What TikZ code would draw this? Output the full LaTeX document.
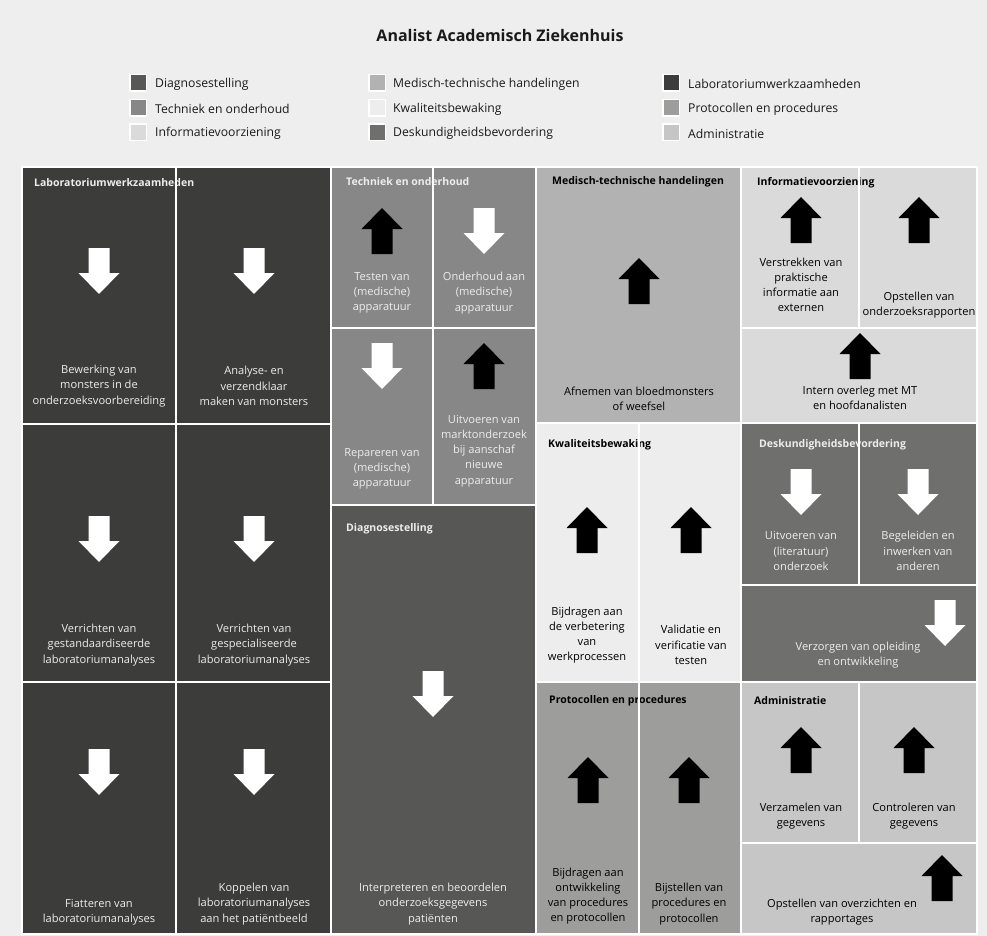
\documentclass[tikz,border=0pt]{standalone}
\usepackage{fontspec}
\setmainfont{Open Sans}

\definecolor{bgc}{HTML}{EEEEEE}
\definecolor{labc}{HTML}{3C3C3B}
\definecolor{diagc}{HTML}{575756}
\definecolor{techc}{HTML}{878787}
\definecolor{infoc}{HTML}{DADADA}
\definecolor{medc}{HTML}{B2B2B2}
\definecolor{kwalc}{HTML}{EDEDED}
\definecolor{deskc}{HTML}{6F6F6E}
\definecolor{protc}{HTML}{9D9D9C}
\definecolor{admc}{HTML}{C6C6C6}
\definecolor{darktxt}{HTML}{1A1A1A}
\definecolor{lighttxt}{HTML}{EDEDED}

\begin{document}
\begin{tikzpicture}[x=1pt, y=-1pt,
    maintitle/.style={font=\fontsize{16}{19}\selectfont\bfseries, text=darktxt, inner sep=0},
    key/.style={draw=white, line width=1.5pt, minimum size=16.5pt, inner sep=0},
    keytext/.style={anchor=west, font=\fontsize{12.2}{14}\selectfont, text=darktxt, inner sep=0},
    head/.style={anchor=west, font=\fontsize{10.5}{13}\selectfont\bfseries, inner sep=0},
    body/.style={align=center, font=\fontsize{11.1}{15.2}\selectfont, inner sep=0},
    onlight/.style={text=black},
    ondark/.style={text=lighttxt},
    sep/.style={draw=white, line width=2pt},
    dnarrow/.pic={\fill[white] (-10.5,-23) -- (10.5,-23) -- (10.5,2) -- (20.5,2)
        -- (0,23) -- (-20.5,2) -- (-10.5,2) -- cycle;},
    uparrow/.pic={\fill[black] (-10.5,23) -- (10.5,23) -- (10.5,-2) -- (20.5,-2)
        -- (0,-23) -- (-20.5,-2) -- (-10.5,-2) -- cycle;}
]
\fill[bgc] (0,0) rectangle (987,936);
\useasboundingbox (0,0) rectangle (987,936);

% Title and legend
\node[maintitle] (title) at (500,36) {Analist Academisch Ziekenhuis};

\node[key, fill=diagc] (k1) at (138,83) {};
\node[key, fill=techc] (k2) at (138,108) {};
\node[key, fill=infoc] (k3) at (138,132.5) {};
\node[key, fill=medc] (k4) at (377,83) {};
\node[key, fill=kwalc] (k5) at (377,108) {};
\node[key, fill=deskc] (k6) at (377,132.5) {};
\node[key, fill=labc] (k7) at (671,83) {};
\node[key, fill=protc] (k8) at (671,108) {};
\node[key, fill=admc] (k9) at (671,132.5) {};

\node[keytext] (kt1) at (155,84) {Diagnosestelling};
\node[keytext] (kt2) at (155,109) {Techniek en onderhoud};
\node[keytext] (kt3) at (155,133.5) {Informatievoorziening};
\node[keytext] (kt4) at (393,84) {Medisch-technische handelingen};
\node[keytext] (kt5) at (393,109) {Kwaliteitsbewaking};
\node[keytext] (kt6) at (393,133.5) {Deskundigheidsbevordering};
\node[keytext] (kt7) at (688,84) {Laboratoriumwerkzaamheden};
\node[keytext] (kt8) at (688,109) {Protocollen en procedures};
\node[keytext] (kt9) at (688,133.5) {Administratie};

% Blocks
\fill[labc] (22,167) rectangle (331,934);
\fill[techc] (331,167) rectangle (536,505);
\fill[diagc] (331,505) rectangle (536,934);
\fill[medc] (536,167) rectangle (741,423);
\fill[kwalc] (536,423) rectangle (741,682);
\fill[protc] (536,682) rectangle (741,934);
\fill[infoc] (741,167) rectangle (977,423);
\fill[deskc] (741,423) rectangle (977,682);
\fill[admc] (741,682) rectangle (977,934);

% Laboratoriumwerkzaamheden
\node[head, ondark] (hlab) at (34,183) {Laboratoriumwerkzaamheden};
\pic at (99,271) {dnarrow};
\pic at (254,271) {dnarrow};
\pic at (99,539) {dnarrow};
\pic at (254,539) {dnarrow};
\pic at (99,772) {dnarrow};
\pic at (254,772) {dnarrow};
\node[body, ondark] (bewerking) at (99,386) {Bewerking van\\monsters in de\\onderzoeksvoorbereiding};
\node[body, ondark] (analyse) at (254,386) {Analyse- en\\verzendklaar\\maken van monsters};
\node[body, ondark] (gestand) at (99,645) {Verrichten van\\gestandaardiseerde\\laboratoriumanalyses};
\node[body, ondark] (gespec) at (254,645) {Verrichten van\\gespecialiseerde\\laboratoriumanalyses};
\node[body, ondark] (fiatteren) at (99,912) {Fiatteren van\\laboratoriumanalyses};
\node[body, ondark] (koppelen) at (254,904) {Koppelen van\\laboratoriumanalyses\\aan het patiëntbeeld};

% Techniek en onderhoud
\node[head, ondark] (htech) at (346,182) {Techniek en onderhoud};
\pic at (382,231) {uparrow};
\pic at (484,231) {dnarrow};
\pic at (382,366) {dnarrow};
\pic at (484,366) {uparrow};
\node[body, ondark] (testen) at (382,293) {Testen van\\(medische)\\apparatuur};
\node[body, ondark] (onderhoud) at (484,293) {Onderhoud aan\\(medische)\\apparatuur};
\node[body, ondark] (repareren) at (382,469) {Repareren van\\(medische)\\apparatuur};
\node[body, ondark] (markt) at (484,451) {Uitvoeren van\\marktonderzoek\\bij aanschaf\\nieuwe\\apparatuur};

% Diagnosestelling
\node[head, ondark] (hdiag) at (346,529) {Diagnosestelling};
\pic at (433,694) {dnarrow};
\node[body, ondark] (interpreteren) at (433,904) {Interpreteren en beoordelen\\onderzoeksgegevens\\patiënten};

% Medisch-technische handelingen
\node[head, onlight] (hmed) at (552,182) {Medisch-technische handelingen};
\pic at (639,281) {uparrow};
\node[body, onlight] (afnemen) at (639,399) {Afnemen van bloedmonsters\\of weefsel};

% Kwaliteitsbewaking
\node[head, onlight] (hkwal) at (548,445) {Kwaliteitsbewaking};
\pic at (587,530) {uparrow};
\pic at (691,530) {uparrow};
\node[body, onlight] (verbetering) at (587,635) {Bijdragen aan\\de verbetering\\van\\werkprocessen};
\node[body, onlight] (validatie) at (691,645) {Validatie en\\verificatie van\\testen};

% Protocollen en procedures
\node[head, onlight] (hprot) at (549,701) {Protocollen en procedures};
\pic at (588,780) {uparrow};
\pic at (689,780) {uparrow};
\node[body, onlight] (ontwikkeling) at (588,896) {Bijdragen aan\\ontwikkeling\\van procedures\\en protocollen};
\node[body, onlight] (bijstellen) at (689,904) {Bijstellen van\\procedures en\\protocollen};

% Informatievoorziening
\node[head, onlight] (hinfo) at (757,183) {Informatievoorziening};
\pic at (801,220) {uparrow};
\pic at (919,220) {uparrow};
\pic at (860,356) {uparrow};
\node[body, onlight] (verstrekken) at (801,285) {Verstrekken van\\praktische\\informatie aan\\externen};
\node[body, onlight] (rapporten) at (919,305) {Opstellen van\\onderzoeksrapporten};
\node[body, onlight] (overleg) at (860,398) {Intern overleg met MT\\en hoofdanalisten};

% Deskundigheidsbevordering
\node[head, ondark] (hdesk) at (759,445) {Deskundigheidsbevordering};
\pic at (801,492) {dnarrow};
\pic at (918,492) {dnarrow};
\pic at (945,623) {dnarrow};
\node[body, ondark] (literatuur) at (801,551) {Uitvoeren van\\(literatuur)\\onderzoek};
\node[body, ondark] (begeleiden) at (918,551) {Begeleiden en\\inwerken van\\anderen};
\node[body, ondark] (opleiding) at (858,655) {Verzorgen van opleiding\\en ontwikkeling};

% Administratie
\node[head, onlight] (hadm) at (754,701) {Administratie};
\pic at (801,750) {uparrow};
\pic at (914,750) {uparrow};
\pic at (942,878) {uparrow};
\node[body, onlight] (verzamelen) at (801,816) {Verzamelen van\\gegevens};
\node[body, onlight] (controleren) at (914,816) {Controleren van\\gegevens};
\node[body, onlight] (overzichten) at (842,912) {Opstellen van overzichten en\\rapportages};

% White separators
\draw[sep] (22,167) rectangle (977,934);
\draw[sep] (176,167) -- (176,934);
\draw[sep] (331,167) -- (331,934);
\draw[sep] (22,424) -- (331,424);
\draw[sep] (22,682) -- (331,682);
\draw[sep] (433,167) -- (433,505);
\draw[sep] (331,328) -- (536,328);
\draw[sep] (331,505) -- (536,505);
\draw[sep] (536,167) -- (536,934);
\draw[sep] (536,423) -- (741,423);
\draw[sep] (536,682) -- (741,682);
\draw[sep] (639,423) -- (639,934);
\draw[sep] (741,167) -- (741,934);
\draw[sep] (741,328) -- (977,328);
\draw[sep] (741,423) -- (977,423);
\draw[sep] (859,167) -- (859,328);
\draw[sep] (859,423) -- (859,585);
\draw[sep] (741,585) -- (977,585);
\draw[sep] (741,682) -- (977,682);
\draw[sep] (859,682) -- (859,843);
\draw[sep] (741,843) -- (977,843);
\end{tikzpicture}
\end{document}
